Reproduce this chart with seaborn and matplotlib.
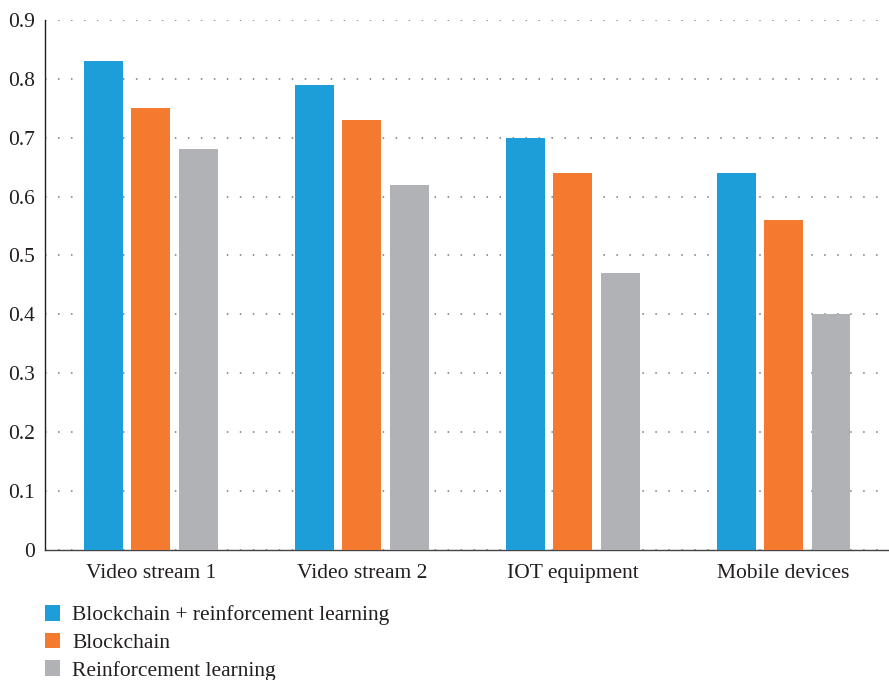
import matplotlib
matplotlib.use("Agg")
import matplotlib.pyplot as plt
import seaborn as sns
import pandas as pd
from matplotlib.patches import Patch

categories = ["Video stream 1", "Video stream 2", "IOT equipment", "Mobile devices"]
series = ["Blockchain + reinforcement learning", "Blockchain", "Reinforcement learning"]
combined = [0.83, 0.79, 0.70, 0.64]
blockchain = [0.75, 0.73, 0.64, 0.56]
reinforcement = [0.68, 0.62, 0.47, 0.40]
yticks = [0, 0.1, 0.2, 0.3, 0.4, 0.5, 0.6, 0.7, 0.8, 0.9]
ytick_labels = ["0", "0.1", "0.2", "0.3", "0.4", "0.5", "0.6", "0.7", "0.8", "0.9"]
colors = ["#1E9ED8", "#F47A30", "#B1B2B5"]

rows = []
for name, vals in zip(series, [combined, blockchain, reinforcement]):
    for c, v in zip(categories, vals):
        rows.append({"category": c, "series": name, "value": v})
df = pd.DataFrame(rows)

sns.set_theme(style="white")
plt.rcParams["font.family"] = ["Liberation Serif", "DejaVu Serif"]

fig = plt.figure(figsize=(8.89, 6.8), dpi=100)
ax = fig.add_axes([0.051, 0.191, 0.949, 0.780])

sns.barplot(data=df, x="category", y="value", hue="series", order=categories,
            hue_order=series, palette=colors, width=0.675, gap=0.18,
            saturation=1, legend=False, ax=ax, zorder=3, linewidth=0, edgecolor="none")

ax.set_xlim(-0.5, 3.5)
ax.set_ylim(0, 0.9)
ax.set_yticks(yticks)
ax.set_yticklabels(ytick_labels)
ax.set_xlabel("")
ax.set_ylabel("")
ax.tick_params(axis="both", length=0, labelsize=15.5, colors="#231F20")
ax.tick_params(axis="x", pad=10)
ax.tick_params(axis="y", pad=7.5)
ax.yaxis.grid(True, linestyle=(0, (1, 7.5)), color="#777777", linewidth=1.1, zorder=0)
ax.xaxis.grid(False)
ax.set_axisbelow(True)
for s in ["top", "right"]:
    ax.spines[s].set_visible(False)
ax.spines["left"].set_color("#231F20")
ax.spines["left"].set_linewidth(1.0)
ax.spines["bottom"].set_color("#444444")
ax.spines["bottom"].set_linewidth(1.0)

handles = [Patch(facecolor=c, edgecolor="none", label=s) for c, s in zip(colors, series)]
fig.legend(handles=handles, loc="upper left", bbox_to_anchor=(0.041, 0.123),
           frameon=False, fontsize=15.5, handlelength=0.7, handleheight=0.75,
           handletextpad=0.55, labelspacing=0.34, borderaxespad=0, labelcolor="#231F20")

fig.savefig("out.png", dpi=100)
